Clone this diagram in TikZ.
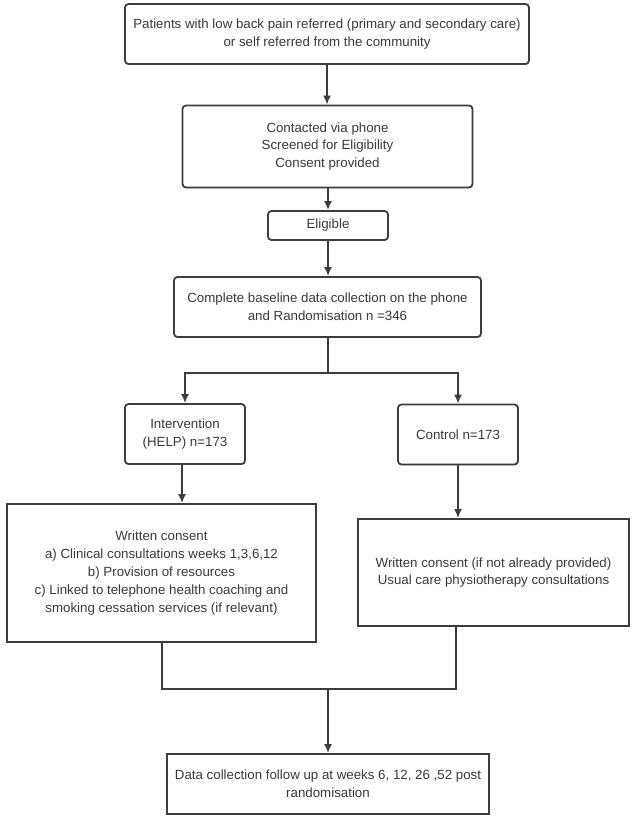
\documentclass[tikz,border=0pt]{standalone}
\usepackage{fontspec}
\setmainfont{Liberation Sans}
\usetikzlibrary{arrows.meta,shadows,calc}
\definecolor{ln}{HTML}{3D3D3D}
\definecolor{tx}{HTML}{3A3A3A}
\tikzset{
  box/.style={draw=ln, line width=1.8pt, fill=white, align=center, text=tx,
    font=\fontsize{13.3}{17.8}\selectfont, inner sep=2pt,
    drop shadow={opacity=0.18, shadow xshift=0.6pt, shadow yshift=-1.2pt}},
  rbox/.style={box, rounded corners=3.5pt},
  conn/.style={draw=ln, line width=2pt},
  arr/.style={conn, -{Latex[length=9pt,width=8pt]}},
}
\begin{document}
\begin{tikzpicture}[x=1pt,y=-1pt]
\useasboundingbox[fill=white] (0,0) rectangle (636,822);
\node[rbox, minimum width=404pt, minimum height=60pt] (top) at (327,34)
  {Patients with low back pain referred (primary and secondary care)\\or self referred from the community};
\node[rbox, minimum width=290pt, minimum height=82pt] (contact) at (327.5,146.5)
  {Contacted via phone\\Screened for Eligibility\\Consent provided};
\node[rbox, minimum width=120pt, minimum height=29pt] (elig) at (328,225.5) {Eligible};
\node[rbox, minimum width=307pt, minimum height=60pt] (base) at (327.5,307)
  {Complete baseline data collection on the phone\\and Randomisation n =346};
\node[rbox, minimum width=120pt, minimum height=60pt] (int) at (185,434)
  {Intervention\\(HELP) n=173};
\node[rbox, minimum width=120pt, minimum height=60pt] (ctrl) at (458,434.5)
  {Control n=173};
\node[box, minimum width=309pt, minimum height=138pt] (wint) at (161.5,573)
  {Written consent\\a) Clinical consultations weeks 1,3,6,12\\b) Provision of resources\\c) Linked to telephone health coaching and\\smoking cessation services (if relevant)};
\node[box, minimum width=271pt, minimum height=107pt] (wctrl) at (493.5,572.5)
  {Written consent (if not already provided)\\Usual care physiotherapy consultations};
\node[box, minimum width=322pt, minimum height=60pt] (final) at (328,784)
  {Data collection follow up at weeks 6, 12, 26 ,52 post\\randomisation};
\coordinate (split) at (328,373);
\coordinate (mL) at (162,689);
\coordinate (mR) at (456,689);
\coordinate (mC) at (328,689);
\draw[arr] (top.south) -- (top.south |- contact.north);
\draw[arr] (contact.south -| elig.south) -- (elig.north);
\draw[arr] (elig.south) -- (elig.south |- base.north);
\draw[conn] (base.south -| split) -- (split);
\draw[arr] (split) -- (split -| int.north) -- (int.north);
\draw[arr] (split) -- (split -| ctrl.north) -- (ctrl.north);
\draw[arr] (int.south) ++(-3,0) coordinate (is) -- (is |- wint.north);
\draw[arr] (ctrl.south) -- (ctrl.south |- wctrl.north);
\draw[conn] (wint.south -| mL) -- (mL) -- (mR) -- (mR |- wctrl.south);
\draw[arr] (mC) -- (mC |- final.north);
\end{tikzpicture}
\end{document}
